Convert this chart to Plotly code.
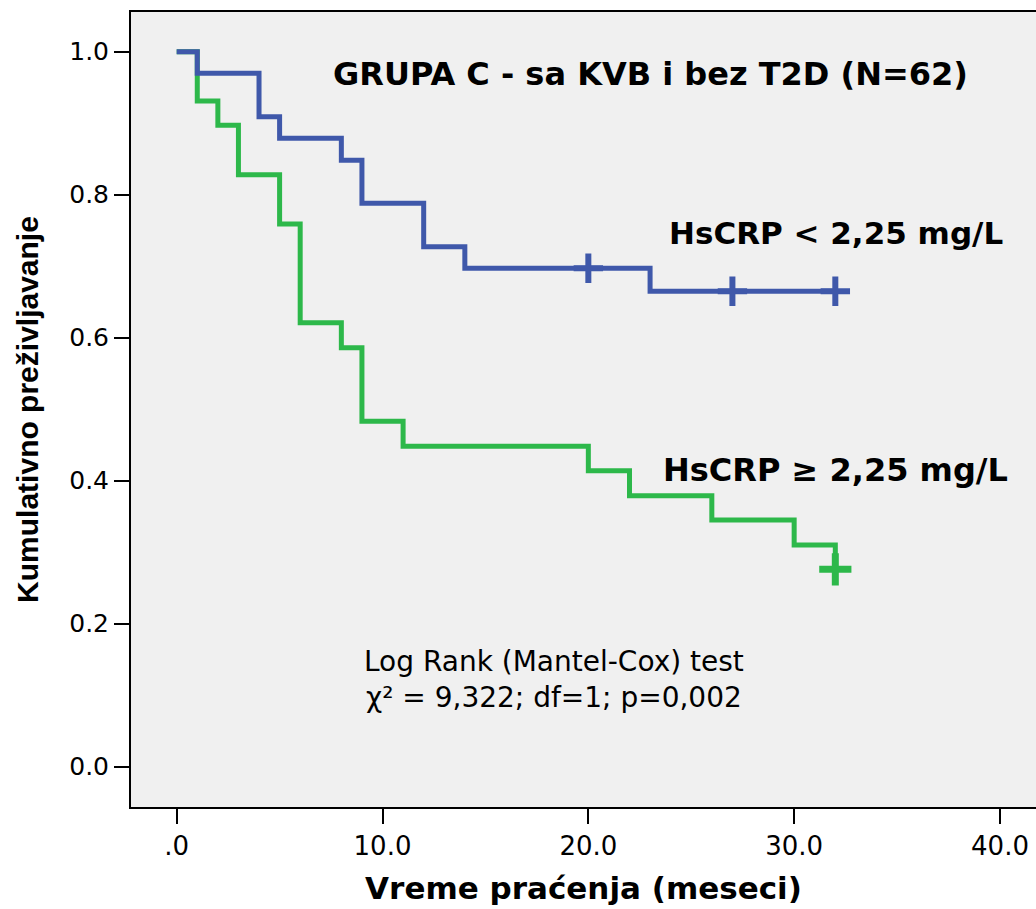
import plotly.graph_objects as go

# Kaplan-Meier steps (time in months, cumulative survival)
low_time = [0, 1, 4, 5, 8, 9, 12, 14, 23, 32]
low_surv = [1.0, 0.970, 0.909, 0.879, 0.848, 0.788, 0.727, 0.697, 0.665, 0.665]
low_cens_time = [20, 27, 32]
low_cens_surv = [0.697, 0.665, 0.665]

high_time = [0, 1, 2, 3, 5, 6, 8, 9, 11, 20, 22, 26, 30, 32]
high_surv = [1.0, 0.931, 0.897, 0.828, 0.759, 0.621, 0.586, 0.483, 0.448, 0.414, 0.379, 0.345, 0.310, 0.276]
high_cens_time = [32]
high_cens_surv = [0.276]

x_ticks = [0, 10, 20, 30, 40]
x_tick_labels = [".0", "10.0", "20.0", "30.0", "40.0"]
y_ticks = [0.0, 0.2, 0.4, 0.6, 0.8, 1.0]
y_tick_labels = ["0.0", "0.2", "0.4", "0.6", "0.8", "1.0"]

BLUE = "#3f58aa"
GREEN = "#2db84a"
WIDE = "DejaVu Sans, Verdana, sans-serif"
ARIAL = "Liberation Sans, Arial, sans-serif"

fig = go.Figure()
fig.add_trace(go.Scatter(x=high_time, y=high_surv, mode="lines", line_shape="hv",
                         line=dict(color=GREEN, width=5), showlegend=False))
fig.add_trace(go.Scatter(x=low_time, y=low_surv, mode="lines", line_shape="hv",
                         line=dict(color=BLUE, width=5), showlegend=False))
fig.add_trace(go.Scatter(x=low_cens_time, y=low_cens_surv, mode="markers",
                         marker=dict(symbol="cross-thin", size=21, line=dict(color=BLUE, width=6)),
                         showlegend=False))
fig.add_trace(go.Scatter(x=high_cens_time, y=high_cens_surv, mode="markers",
                         marker=dict(symbol="cross-thin", size=23, line=dict(color=GREEN, width=7)),
                         showlegend=False))

annos = [
    dict(x=23.0, y=0.969, text="<b>GRUPA C - sa KVB i bez T2D (N=62)</b>", size=32, xanchor="center"),
    dict(x=40.25, y=0.746, text="<b>HsCRP < 2,25 mg/L</b>", size=31, xanchor="right"),
    dict(x=40.5, y=0.415, text="<b>HsCRP \u2265 2,25 mg/L</b>", size=32, xanchor="right"),
    dict(x=18.35, y=0.1225, text="Log Rank (Mantel-Cox) test<br>\u03c7\u00b2 = 9,322; df=1; p=0,002",
         size=28, xanchor="center"),
]
for a in annos:
    fig.add_annotation(x=a["x"], y=a["y"], text=a["text"], showarrow=False,
                       xanchor=a["xanchor"], yanchor="middle", align="center",
                       font=dict(family=WIDE, size=a["size"], color="black"))

fig.update_layout(
    width=1036, height=909,
    margin=dict(l=131, r=0, t=12, b=102),
    paper_bgcolor="white", plot_bgcolor="#f0f0f0",
    font=dict(family=WIDE, color="black"),
)
fig.update_xaxes(range=[-2.22, 41.75], tickvals=x_ticks, ticktext=x_tick_labels,
                 showgrid=False, zeroline=False, showline=True, linecolor="black", linewidth=2,
                 mirror=True, ticks="outside", ticklen=15, tickwidth=2, tickcolor="black",
                 tickfont=dict(size=26, family=WIDE),
                 title=dict(text="<b>Vreme praćenja (meseci)</b>", font=dict(size=31, family=WIDE), standoff=17))
fig.update_yaxes(range=[-0.0564, 1.0555], tickvals=y_ticks, ticktext=y_tick_labels,
                 showgrid=False, zeroline=False, showline=True, linecolor="black", linewidth=2,
                 mirror=False, ticks="outside", ticklen=15, tickwidth=2, tickcolor="black",
                 tickfont=dict(size=25, family=WIDE),
                 title=dict(text="<b>Kumulativno preživljavanje</b>", font=dict(size=30, family=ARIAL), standoff=22))

fig.write_html("out.html")
